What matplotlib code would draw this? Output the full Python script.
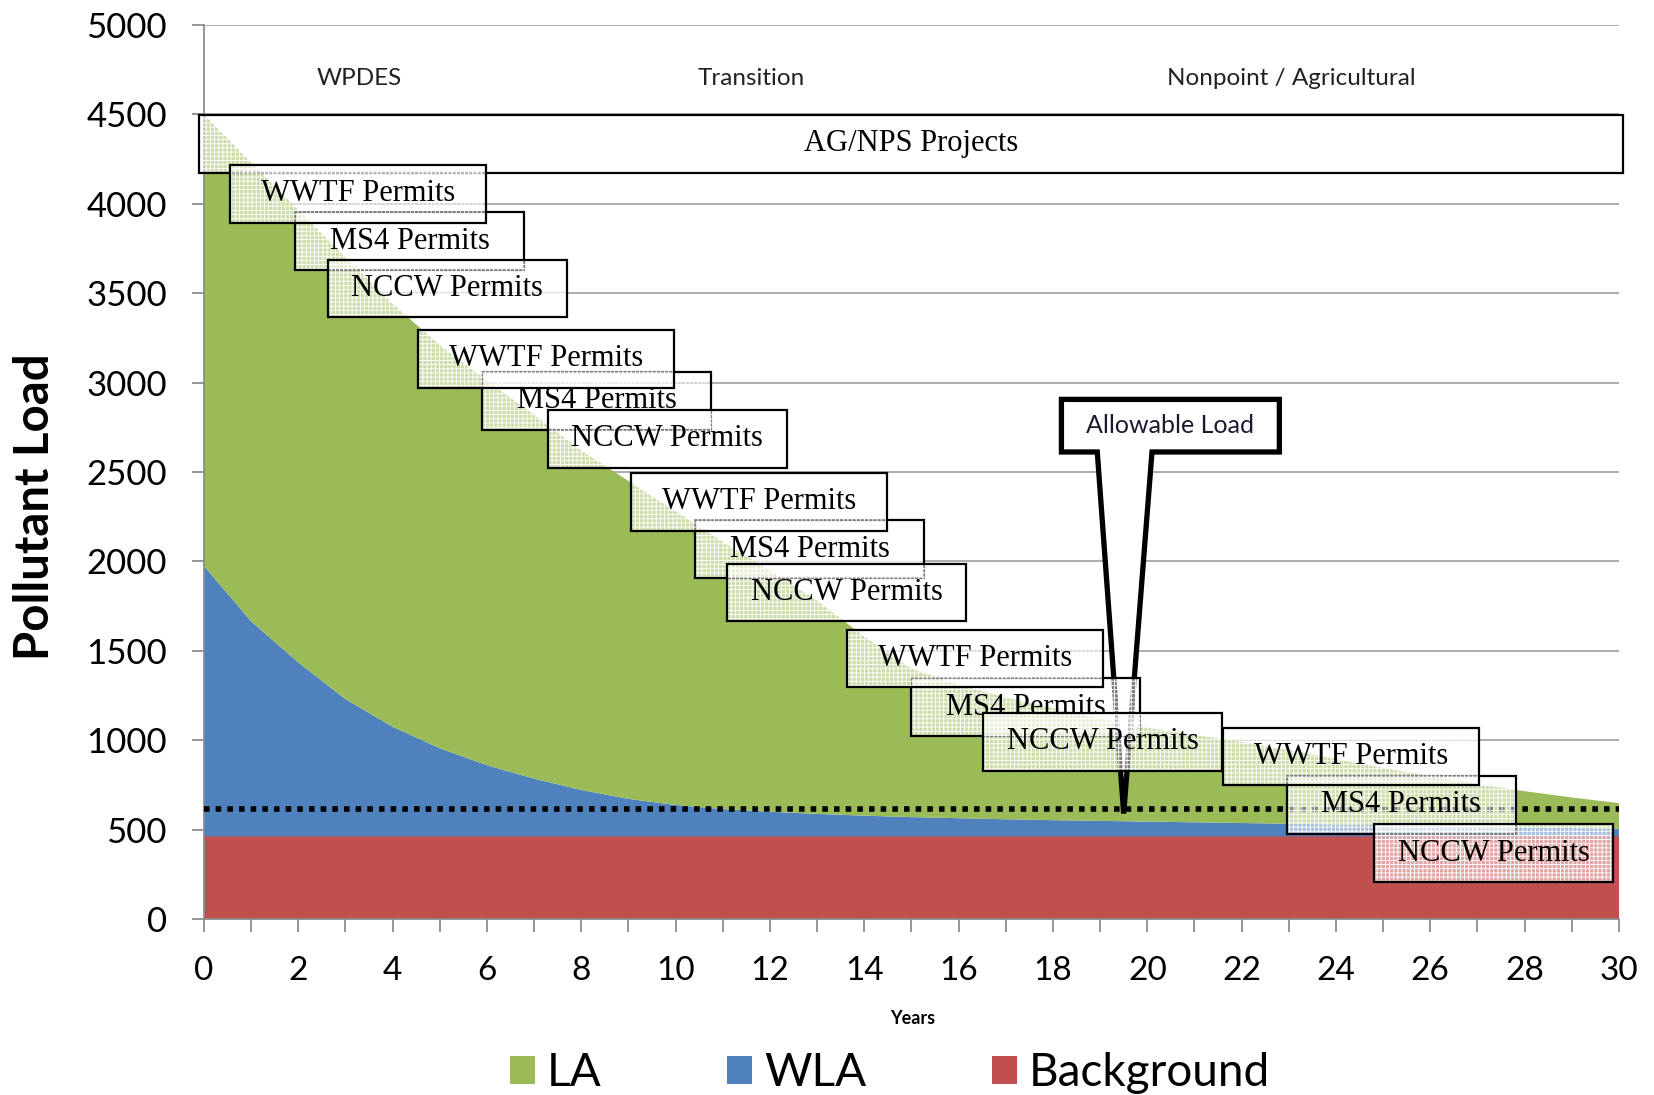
import matplotlib
matplotlib.use("Agg")
import matplotlib.pyplot as plt
from matplotlib.patches import Rectangle, Polygon, Patch

plt.rcParams['hatch.linewidth'] = 0.6

SANS = 'Lato'
SERIF = 'Liberation Serif'
GREEN = '#9BBB59'
BLUE = '#4F81BD'
RED = '#C0504D'
GRID = '#a6a6a6'

years = list(range(31))
background = [462] * 31
wla = [1513, 1203, 973, 768, 613, 493, 398, 323, 260, 210, 176, 153, 138, 126, 116,
       108, 102, 96, 91, 87, 83, 79, 75, 71, 67, 63, 59, 55, 51, 47, 43]
la = [2525, 2565, 2530, 2470, 2365, 2255, 2150, 2035, 1898, 1778, 1642, 1495, 1350,
      1192, 1002, 830, 746, 682, 627, 571, 525, 489, 453, 412, 366, 320, 279, 238,
      202, 171, 143]
allowable_load = 615

series_names = ['LA', 'WLA', 'Background']
phase_labels = ['WPDES', 'Transition', 'Nonpoint / Agricultural']
phase_x = [3.3, 11.6, 23.05]

# permit boxes: (label, left year, top value)
permit_boxes = [
    ('MS4 Permits', 1.94, 3953), ('WWTF Permits', 0.56, 4218), ('NCCW Permits', 2.62, 3688),
    ('MS4 Permits', 5.90, 3059), ('WWTF Permits', 4.54, 3294), ('NCCW Permits', 7.29, 2847),
    ('MS4 Permits', 10.42, 2229), ('WWTF Permits', 9.05, 2494), ('NCCW Permits', 11.09, 1988),
    ('MS4 Permits', 15.00, 1347), ('WWTF Permits', 13.64, 1618), ('NCCW Permits', 16.52, 1153),
    ('MS4 Permits', 22.96, 800), ('WWTF Permits', 21.60, 1071), ('NCCW Permits', 24.81, 529),
]
box_width = {'WWTF Permits': 5.43, 'MS4 Permits': 4.85, 'NCCW Permits': 5.07}
BOX_H = 323


def draw_box(ax, x0, y0, w, h, label, z, fs=22):
    ax.add_patch(Rectangle((x0, y0), w, h, facecolor=(1, 1, 1, 0.5), edgecolor='none',
                           lw=0, zorder=z, clip_on=False))
    ax.add_patch(Rectangle((x0, y0), w, h, fill=False, hatch='++++', edgecolor='white',
                           lw=0, zorder=z, clip_on=False))
    ax.add_patch(Rectangle((x0, y0), w, h, fill=False, edgecolor='black', lw=1.6,
                           zorder=z, clip_on=False))
    ax.text(x0 + w / 2, y0 + h / 2, label, ha='center', va='center', family=SERIF,
            fontsize=fs, zorder=z, clip_on=False)


fig = plt.figure(figsize=(16.54, 10.95), dpi=100)
ax = fig.add_axes([0.1233, 0.1607, 0.9788 - 0.1233, 0.9772 - 0.1607])

ax.stackplot(years, background, wla, la, colors=[RED, BLUE, GREEN], zorder=2)
ax.plot([0, 30], [allowable_load, allowable_load], color='black', lw=4,
        linestyle=(0, (1, 1.1)), zorder=3, clip_on=False)

ax.set_xlim(0, 30)
ax.set_ylim(0, 5000)
ax.set_yticks(range(0, 5001, 500))
ax.set_xticks(years)
ax.set_xticklabels([str(y) if y % 2 == 0 else '' for y in years])
ax.grid(axis='y', color=GRID, lw=1.3)
ax.set_axisbelow(True)
for s in ['top', 'right']:
    ax.spines[s].set_visible(False)
for s in ['left', 'bottom']:
    ax.spines[s].set_color('#8c8c8c')
    ax.spines[s].set_linewidth(1.3)
    ax.spines[s].set_zorder(2.5)
ax.tick_params(axis='y', length=8.6, width=1.3, color='#8c8c8c', pad=18, labelsize=25)
ax.tick_params(axis='x', length=9.4, width=1.3, color='#8c8c8c', pad=17, labelsize=24)
for lab in ax.get_xticklabels() + ax.get_yticklabels():
    lab.set_family(SANS)

fig.text(35 / 1654, 1 - 507 / 1095, 'Pollutant Load', rotation=90, ha='center', va='center',
         family=SANS, fontweight='bold', fontsize=34)
fig.text(913 / 1654, 1 - 1018 / 1095, 'Years', ha='center', va='center', family=SANS,
         fontweight='bold', fontsize=13)

for lab, px in zip(phase_labels, phase_x):
    ax.text(px, 4700, lab, ha='center', va='center', family=SANS, fontsize=17.5,
            color='#222222')

# allowable load callout
cx0, cx1, cy0, cy1 = 18.18, 22.8, 2612, 2906
callout = Polygon([(cx0, cy1), (cx1, cy1), (cx1, cy0), (20.1, cy0), (19.5, 590),
                   (18.94, cy0), (cx0, cy0)], closed=True, facecolor='white',
                  edgecolor='black', lw=3.8, joinstyle='miter', zorder=4)
ax.add_patch(callout)
ax.text((cx0 + cx1) / 2, (cy0 + cy1) / 2, 'Allowable Load', ha='center', va='center',
        family=SANS, fontsize=18, color='#1a1a2e', zorder=4.1)

draw_box(ax, -0.11, 4172, 30.19, 325, 'AG/NPS Projects', 5)
for i, (lab, x0, top) in enumerate(permit_boxes):
    draw_box(ax, x0, top - BOX_H, box_width[lab], BOX_H, lab, 6 + i * 0.1)

handles = [Patch(facecolor=c, edgecolor='none') for c in [GREEN, BLUE, RED]]
fig.legend(handles, series_names, loc='center', bbox_to_anchor=(0.538, 0.02), ncol=3,
           frameon=False, prop={'family': SANS, 'size': 33}, handlelength=0.55,
           handleheight=0.55, handletextpad=0.25, columnspacing=2.75)

fig.savefig('out.png', dpi=100)
